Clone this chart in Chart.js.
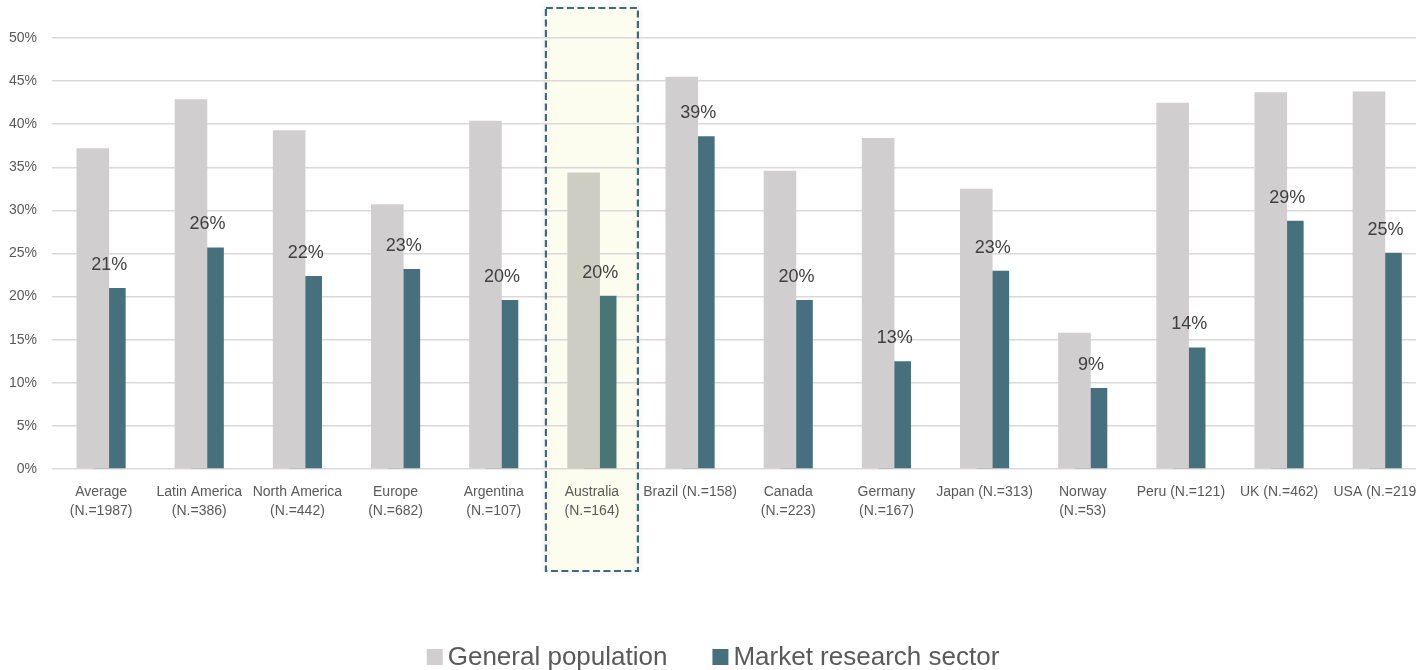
<!DOCTYPE html>
<html><head><meta charset="utf-8">
<script src="https://cdn.jsdelivr.net/npm/chart.js@4/dist/chart.umd.min.js"></script>
<style>
html,body{margin:0;padding:0;overflow:hidden;background:#fff;width:1416px;height:670px}
#wrap{width:1435px;height:670px;position:relative}
canvas{display:block}
</style></head>
<body><div id="wrap"><canvas id="c" width="1435" height="670"></canvas></div>
<script>
const categories = [["Average","(N.=1987)"],["Latin America","(N.=386)"],["North America","(N.=442)"],["Europe","(N.=682)"],["Argentina","(N.=107)"],["Australia","(N.=164)"],"Brazil (N.=158)",["Canada","(N.=223)"],["Germany","(N.=167)"],"Japan (N.=313)",["Norway","(N.=53)"],"Peru (N.=121)","UK (N.=462)","USA (N.=219)"];
const seriesNames = ["General population","Market research sector"];
const generalPopulation = [37.2,42.9,39.3,30.7,40.4,34.4,45.5,34.6,38.4,32.5,15.8,42.5,43.7,43.8];
const marketResearch = [21.0,25.7,22.4,23.2,19.6,20.1,38.6,19.6,12.5,23.0,9.4,14.1,28.8,25.1];
const yTickValues = [0,5,10,15,20,25,30,35,40,45,50];
const highlightIndex = 5;

const GRAY = '#d0cece', TEAL = '#46707e';
const GRAY_HL = '#cecdc4', TEAL_HL = '#4a7577';
const FONT = '"Liberation Sans", Arial, sans-serif';
const LEGEND_CENTER = 713;

const highlightPlugin = {
  id: 'highlight',
  beforeDraw(chart) {
    const ctx = chart.ctx, x = chart.scales.x;
    const cx = x.getPixelForValue(highlightIndex);
    ctx.save();
    ctx.shadowColor = 'rgba(0,0,0,0.10)';
    ctx.shadowBlur = 8;
    ctx.fillStyle = '#fdfdef';
    ctx.fillRect(cx - 46, 8, 92, 563);
    ctx.restore();
  },
  afterDraw(chart) {
    const ctx = chart.ctx, x = chart.scales.x;
    const cx = x.getPixelForValue(highlightIndex);
    ctx.save();
    ctx.strokeStyle = '#3e6b78';
    ctx.lineWidth = 2.2;
    ctx.setLineDash([7, 3.5]);
    ctx.strokeRect(cx - 46, 8, 92, 563);
    ctx.restore();
  }
};

const labelPlugin = {
  id: 'valueLabels',
  afterDatasetsDraw(chart) {
    const ctx = chart.ctx;
    const meta = chart.getDatasetMeta(1);
    ctx.save();
    ctx.font = '18px ' + FONT;
    ctx.fillStyle = '#404040';
    ctx.textAlign = 'center';
    ctx.textBaseline = 'alphabetic';
    meta.data.forEach((bar, i) => {
      const v = chart.data.datasets[1].data[i];
      ctx.fillText(Math.round(v) + '%', bar.x, bar.y - 18);
    });
    ctx.restore();
  }
};

const legendPlugin = {
  id: 'customLegend',
  afterDraw(chart) {
    const ctx = chart.ctx;
    ctx.save();
    ctx.font = '26px ' + FONT;
    const ds = chart.data.datasets;
    const box = 16, gap = 5, itemGap = 45;
    const widths = ds.map(d => box + gap + ctx.measureText(d.label).width);
    const total = widths.reduce((a, b) => a + b, 0) + itemGap * (ds.length - 1);
    let x = LEGEND_CENTER - total / 2;
    const cy = 657;
    ds.forEach((d, i) => {
      ctx.fillStyle = d.legendColor;
      ctx.fillRect(x, cy - box / 2, box, box);
      ctx.fillStyle = '#595959';
      ctx.textBaseline = 'middle';
      ctx.textAlign = 'left';
      ctx.fillText(d.label, x + box + gap, cy + 1);
      x += widths[i] + itemGap;
    });
    ctx.restore();
  }
};

new Chart(document.getElementById('c'), {
  type: 'bar',
  data: {
    labels: categories,
    datasets: [
      { label: seriesNames[0], data: generalPopulation, legendColor: GRAY,
        backgroundColor: c => c.dataIndex === highlightIndex ? GRAY_HL : GRAY,
        categoryPercentage: 0.337, barPercentage: 1.97 },
      { label: seriesNames[1], data: marketResearch, legendColor: TEAL,
        backgroundColor: c => c.dataIndex === highlightIndex ? TEAL_HL : TEAL,
        categoryPercentage: 0.337, barPercentage: 1.97 }
    ]
  },
  options: {
    responsive: false,
    devicePixelRatio: 1,
    animation: false,
    layout: { padding: { top: 38, left: 0, right: 0, bottom: 0 } },
    plugins: { legend: { display: false }, tooltip: { enabled: false } },
    scales: {
      x: {
        grid: { display: false, drawTicks: false },
        border: { display: false },
        ticks: { color: '#595959', font: { family: FONT, size: 14, lineHeight: 1.36 },
                 padding: 14, maxRotation: 0, autoSkip: false },
        afterFit: s => { s.height = 201; }
      },
      y: {
        min: 0, max: 50,
        afterBuildTicks: s => { s.ticks = yTickValues.map(v => ({ value: v })); },
        grid: { color: '#d9d9d9', lineWidth: 1.5, drawTicks: false },
        border: { display: false },
        ticks: { color: '#595959', font: { family: FONT, size: 14 }, padding: 15,
                 callback: v => v + '%' },
        afterFit: s => { s.width = 52; }
      }
    }
  },
  plugins: [highlightPlugin, labelPlugin, legendPlugin]
});
</script>
</body></html>
